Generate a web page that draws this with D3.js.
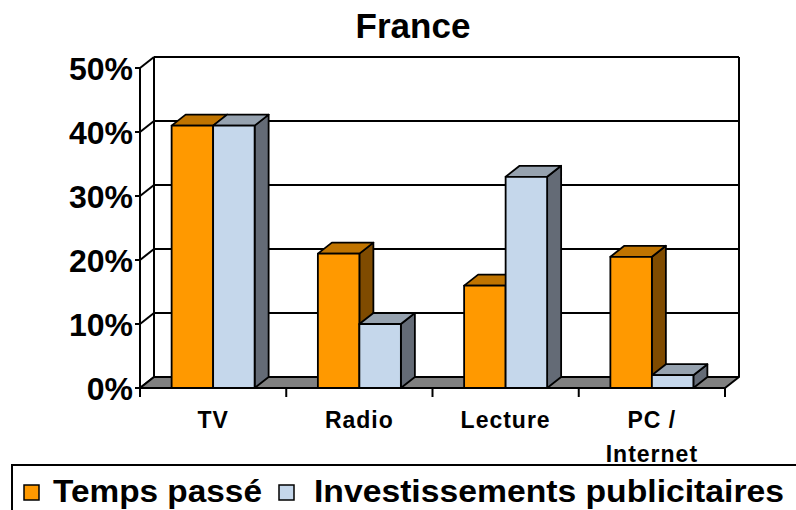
<!DOCTYPE html>
<html><head><meta charset="utf-8">
<script src="https://cdn.jsdelivr.net/npm/d3@7"></script>
<style>body{margin:0;background:#fff;} text{font-family:"Liberation Sans",Arial,sans-serif;font-weight:bold;fill:#000;}</style>
</head><body><svg id="c" width="796" height="510"></svg>
<script>
const categories = ["TV", "Radio", "Lecture", "PC / Internet"];
const seriesNames = ["Temps passé", "Investissements publicitaires"];
const tempsPasse = [41, 21, 16, 20.5];
const investissements = [41, 10, 33, 2];
const yTicks = [0, 10, 20, 30, 40, 50];

const svg = d3.select("#c");
const DX = 14, DY = 11;
const x0 = d3.scaleBand().domain(categories).range([140, 725]).padding(0);
const x1 = d3.scaleBand().domain(seriesNames).range([0, x0.bandwidth()]).paddingInner(0).paddingOuter(0.762);
const y = d3.scaleLinear().domain([0, 50]).range([388, 68]);

const colors = {
  "Temps passé": {front: "#FF9900", top: "#C07400", side: "#7F4B00"},
  "Investissements publicitaires": {front: "#C5D7EB", top: "#96A2AF", side: "#646B76"}
};

// Title
svg.append("text").attr("x", 413).attr("y", 38).attr("text-anchor", "middle").style("font-size", "35px").text("France");

// Back wall
const bx0 = x0.range()[0] + DX, bx1 = x0.range()[1] + DX;
const g = svg.append("g");
yTicks.forEach(t => {
  const yb = y(t) - DY;
  if (t > 0) g.append("line").attr("x1", bx0).attr("x2", bx1).attr("y1", yb).attr("y2", yb).attr("stroke", "#000").attr("stroke-width", 2);
  g.append("line").attr("x1", 140).attr("y1", y(t)).attr("x2", bx0).attr("y2", yb).attr("stroke", "#000").attr("stroke-width", 2);
});
g.append("line").attr("x1", bx0).attr("x2", bx0).attr("y1", y(50) - DY).attr("y2", y(0) - DY).attr("stroke", "#000").attr("stroke-width", 2);
g.append("line").attr("x1", bx1).attr("x2", bx1).attr("y1", y(50) - DY).attr("y2", y(0) - DY).attr("stroke", "#000").attr("stroke-width", 2);

// Floor
const fx0 = x0.range()[0], fx1 = x0.range()[1];
g.append("path").attr("d", `M${fx0},${y(0)}L${fx1},${y(0)}L${fx1 + DX},${y(0) - DY}L${fx0 + DX},${y(0) - DY}Z`)
  .attr("fill", "#808080").attr("stroke", "#000").attr("stroke-width", 2).attr("stroke-linejoin", "round");

// Bars
const seriesData = [tempsPasse, investissements];
categories.forEach((c, i) => {
  seriesNames.forEach((s, k) => {
    const v = seriesData[k][i];
    const xl = x0(c) + x1(s), xr = xl + x1.bandwidth();
    const yt = y(v), yb = y(0);
    const col = colors[s];
    const bg = svg.append("g").attr("stroke", "#000").attr("stroke-width", 1.8).attr("stroke-linejoin", "round");
    bg.append("path").attr("d", `M${xr},${yt}L${xr + DX},${yt - DY}L${xr + DX},${yb - DY}L${xr},${yb}Z`).attr("fill", col.side);
    bg.append("path").attr("d", `M${xl},${yt}L${xl + DX},${yt - DY}L${xr + DX},${yt - DY}L${xr},${yt}Z`).attr("fill", col.top);
    bg.append("rect").attr("x", xl).attr("y", yt).attr("width", xr - xl).attr("height", yb - yt).attr("fill", col.front);
  });
});

// Front value axis
svg.append("line").attr("x1", 140).attr("x2", 140).attr("y1", y(50)).attr("y2", y(0)).attr("stroke", "#000").attr("stroke-width", 2);
svg.append("line").attr("x1", fx0).attr("x2", fx1).attr("y1", y(0)).attr("y2", y(0)).attr("stroke", "#000").attr("stroke-width", 2);
yTicks.forEach(t => {
  svg.append("line").attr("x1", 135).attr("x2", 140).attr("y1", y(t)).attr("y2", y(t)).attr("stroke", "#000").attr("stroke-width", 2);
  svg.append("text").attr("x", 133).attr("y", y(t)).attr("dy", "0.36em").attr("text-anchor", "end").style("font-size", "32px").text(t + "%");
});
const bounds = categories.map(c => x0(c)).concat([fx1]);
bounds.forEach(bx => {
  svg.append("line").attr("x1", bx).attr("x2", bx).attr("y1", y(0)).attr("y2", y(0) + 9).attr("stroke", "#000").attr("stroke-width", 2);
});
categories.forEach(c => {
  const cx = x0(c) + x0.bandwidth() / 2;
  const parts = c === "PC / Internet" ? ["PC /", "Internet"] : [c];
  parts.forEach((p, j) => {
    svg.append("text").attr("x", cx).attr("y", 428 + j * 34).attr("text-anchor", "middle")
      .style("font-size", "23px").style("letter-spacing", "1px").text(p);
  });
});

// Legend
svg.append("rect").attr("x", 12).attr("y", 465).attr("width", 800).attr("height", 60).attr("fill", "#fff").attr("stroke", "#000").attr("stroke-width", 2);
const legX = [{sw: 24, tx: 53, len: 209}, {sw: 279, tx: 314, len: 470}];
seriesNames.forEach((s, k) => {
  svg.append("rect").attr("x", legX[k].sw).attr("y", 485).attr("width", 15).attr("height", 15).attr("fill", colors[s].front).attr("stroke", "#000").attr("stroke-width", 1.5);
  svg.append("text").attr("x", legX[k].tx).attr("y", 502).style("font-size", "31px")
    .attr("textLength", legX[k].len).attr("lengthAdjust", "spacingAndGlyphs").text(s);
});
</script></body></html>
